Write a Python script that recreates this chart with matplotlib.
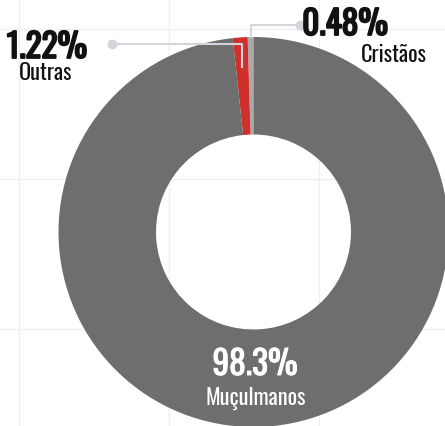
import numpy as np
import matplotlib.pyplot as plt
import matplotlib.patheffects as pe

plt.rcParams['font.family'] = ['Oswald', 'DejaVu Sans']

# data
labels = ['Cristãos', 'Outras', 'Muçulmanos']
values = [0.48, 1.22, 98.3]
colors = ['#a9a9a9', '#cf302c', '#6e6e6e']

# layout (pixels)
W, H = 445, 426
cx, cy, R = 253.5, 232, 195
line_col = '#d4d4dc'

fig = plt.figure(figsize=(W / 100, H / 100), dpi=100)
fig.patch.set_facecolor('white')

# faint background grid
bg = fig.add_axes([0, 0, 1, 1], zorder=0)
bg.set_xlim(0, W)
bg.set_ylim(H, 0)
for gx in [19, 169, 319]:
    bg.axvline(gx, color='#f0f0f2', lw=1)
for gy in [29, 179, 329]:
    bg.axhline(gy, color='#f0f0f2', lw=1)
bg.axis('off')

# donut
ax = fig.add_axes([(cx - R) / W, (H - cy - R) / H, 2 * R / W, 2 * R / H], zorder=1)
ax.patch.set_alpha(0)
wedges, _ = ax.pie(values, colors=colors, startangle=90, counterclock=True,
                   wedgeprops=dict(width=0.5, linewidth=0))
ax.set_xlim(-1, 1)
ax.set_ylim(-1, 1)
ax.axis('off')

# overlay for labels
ov = fig.add_axes([0, 0, 1, 1], zorder=2)
ov.set_xlim(0, W)
ov.set_ylim(H, 0)
ov.patch.set_alpha(0)
ov.axis('off')


def anchor(i, r):
    start = 90 + 360 * sum(values[:i]) / 100
    mid = np.radians(start + 360 * values[i] / 200)
    return cx + R * r * np.cos(mid), cy - R * r * np.sin(mid)


def heavy(col, w):
    # Oswald only ships one weight here, thicken it a bit
    return [pe.withStroke(linewidth=w, foreground=col)]


# Outras leader
ax_, ay_ = anchor(1, 0.846)
ov.plot([112, ax_, ax_], [44, 44, ay_], color=line_col, lw=1.5)
ov.plot(112, 44, 'o', color=line_col, ms=6)
# Cristaos leader
bx_, by_ = anchor(0, 1.0)
ov.plot([300, bx_, bx_], [25, 25, by_], color=line_col, lw=1.5)
ov.plot(300, 25, 'o', color=line_col, ms=6)

dark = '#111111'
ov.text(47, 58, f'{values[1]}%', ha='center', va='baseline', fontsize=24,
        color=dark, path_effects=heavy(dark, 1.3))
ov.text(46, 80, labels[1], ha='center', va='baseline', fontsize=16, color=dark)

ov.text(345, 35, f'{values[0]}%', ha='center', va='baseline', fontsize=24,
        color=dark, path_effects=heavy(dark, 1.3))
ov.text(394, 62, labels[0], ha='center', va='baseline', fontsize=16, color=dark)

ov.text(255, 375, f'{values[2]}%', ha='center', va='baseline', fontsize=24,
        color='white', path_effects=heavy('white', 0.7))
ov.text(256, 405, labels[2], ha='center', va='baseline', fontsize=16, color='white')

plt.savefig('out.png', dpi=100)
